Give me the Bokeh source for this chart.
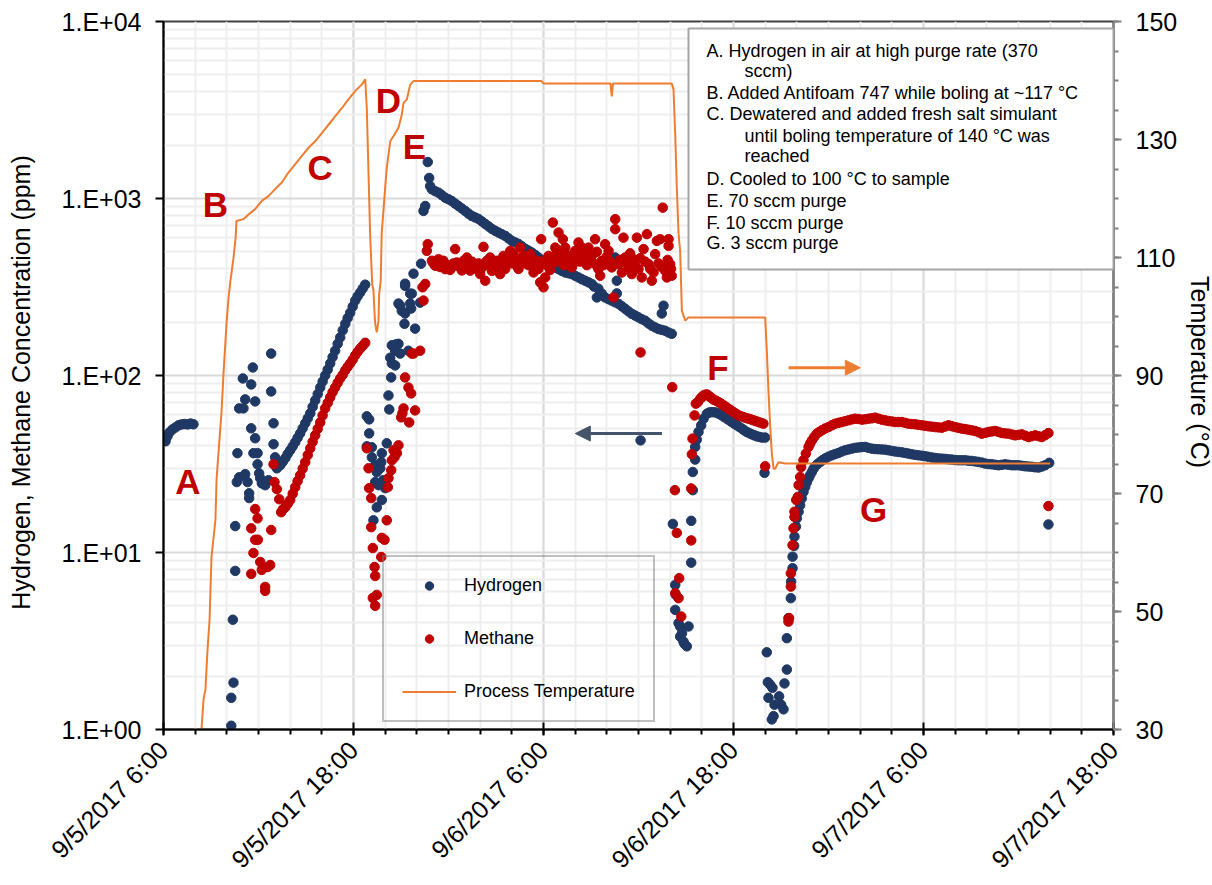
import math
from bokeh.plotting import figure
from bokeh.models import (Range1d, LinearAxis, LinearScale, FixedTicker, Legend, LegendItem, Label,
                          BoxAnnotation, Arrow, NormalHead)
from bokeh.embed import file_html
from bokeh.resources import INLINE

# ---------------- data (time = hours since 9/5/2017 6:00) ----------------
x_tick_hours = [0, 12, 24, 36, 48, 60]
x_tick_labels = ["9/5/2017 6:00", "9/5/2017 18:00", "9/6/2017 6:00",
                 "9/6/2017 18:00", "9/7/2017 6:00", "9/7/2017 18:00"]
y_left_ticks = [1, 10, 100, 1000, 10000]
y_left_labels = ["1.E+00", "1.E+01", "1.E+02", "1.E+03", "1.E+04"]
y_right_ticks = [30, 50, 70, 90, 110, 130, 150]

h2_pts = [
    # A
    (0.13, 42.5), (0.25, 45.3), (0.38, 47.7), (0.57, 49.6), (0.76, 50.9), (0.95, 52.3), (1.14, 52.9),
    (1.33, 53.2), (1.52, 52.9), (1.71, 53.5), (1.89, 53.0),
    # B scatter
    (4.28, 1.05), (4.28, 1.51), (4.42, 1.84), (4.38, 4.17), (4.53, 7.87), (4.53, 14.1), (4.67, 36.4),
    (4.63, 25.0), (4.78, 26.6), (5.16, 27.7), (5.31, 25.0), (5.41, 21.6), (5.41, 20.3), (4.78, 65.2),
    (5.05, 65.2), (5.16, 73.3), (5.01, 96.2), (5.54, 89.0), (5.64, 111), (5.79, 71.4), (5.54, 50.3),
    (5.79, 44.2), (5.68, 36.4), (5.94, 36.4), (5.94, 31.5), (6.04, 28.0), (6.11, 26.3), (6.21, 24.6),
    (6.42, 24.0), (6.63, 25.6), (6.80, 133), (6.80, 81.3), (6.95, 53.7), (6.95, 40.9), (7.05, 34.5),
    # C rise
    (7.16, 29.9), (7.37, 31.1), (7.53, 32.5), (7.69, 34.1), (7.84, 36.0), (8.0, 37.8), (8.16, 39.8),
    (8.32, 42.0), (8.47, 44.5), (8.63, 47.1), (8.79, 50.3), (8.95, 53.7), (9.11, 57.3), (9.27, 61.1),
    (9.42, 66.5), (9.58, 72.3), (9.74, 78.5), (9.90, 85.5), (10.05, 92.5), (10.21, 100), (10.37, 108),
    (10.53, 117), (10.68, 127), (10.84, 138), (11.0, 151), (11.16, 164), (11.32, 180), (11.48, 196),
    (11.63, 211), (11.79, 226), (11.95, 245), (12.11, 265), (12.26, 280), (12.42, 294), (12.58, 310),
    (12.74, 326),
    # D dip
    (12.84, 58.8), (12.99, 56.5), (12.99, 47.1), (12.84, 39.8), (13.16, 39.3), (13.16, 34.5), (13.37, 31.1),
    (13.47, 28.4), (13.37, 25.0), (13.58, 24.0), (13.79, 36.4), (13.75, 32.4), (13.69, 29.9), (13.89, 25.6),
    (14.0, 23.1), (13.79, 19.8), (13.47, 18.0), (13.26, 15.2), (14.1, 41.4), (14.26, 64.3), (14.21, 77.1),
    (14.38, 97.5), (14.42, 117), (14.32, 126), (14.42, 148), (14.63, 138), (14.84, 151), (14.69, 150),
    (14.63, 114), (15.26, 321), (14.95, 248), (15.05, 232), (15.22, 196), (15.58, 290), (15.64, 239),
    (15.89, 184), (15.58, 255), (15.26, 224), (14.95, 133), (15.47, 138), (15.26, 330), (15.79, 376),
    (15.68, 290), (14.84, 255), (16.21, 258), (16.27, 428), (16.42, 851), (16.53, 907), (16.69, 1607),
    (16.78, 1306), (16.84, 1175),
    # E decline
    (16.95, 1127), (17.16, 1100), (17.37, 1079), (17.58, 1045), (17.79, 1011), (18.0, 990), (18.21, 968),
    (18.42, 935), (18.63, 907), (18.84, 878), (19.05, 851), (19.26, 822), (19.47, 797), (19.68, 782),
    (19.89, 767), (20.11, 742), (20.32, 718), (20.53, 695), (20.74, 673), (20.95, 657), (21.16, 642),
    (21.37, 628), (21.58, 615), (21.79, 595), (22.0, 576), (22.21, 565), (22.42, 554), (22.63, 537),
    (22.84, 520), (23.05, 508), (23.26, 495), (23.47, 480), (23.68, 464), (23.89, 449), (24.11, 435),
    (24.32, 426), (24.53, 417), (24.74, 408), (24.95, 399), (25.16, 390), (25.37, 382), (25.58, 378),
    (25.79, 374), (26.0, 366), (26.21, 358), (26.42, 350), (26.63, 343), (26.84, 336), (27.05, 329),
    (27.2, 318), (27.37, 276), (27.47, 309), (27.68, 290), (27.89, 276), (28.1, 270), (28.31, 265),
    (28.53, 259), (28.74, 254), (28.95, 246), (29.16, 238), (29.37, 230), (29.58, 223), (29.79, 218),
    (30.0, 213), (30.21, 208), (30.42, 204), (30.63, 197), (30.84, 191), (31.05, 187), (31.26, 183),
    (31.47, 181), (31.68, 179), (31.89, 175), (32.1, 172),
    (28.53, 464), (28.63, 343), (28.63, 291), (31.58, 248), (31.47, 224), (30.13, 43.0),
    # F
    (32.17, 14.5), (32.32, 6.56), (32.36, 5.76), (32.32, 4.74), (32.53, 3.99), (32.63, 3.82), (32.63, 3.35),
    (32.75, 3.5), (32.84, 3.14), (32.9, 3.05), (33.05, 2.95), (33.16, 3.82), (33.33, 8.76), (33.33, 15.1),
    (33.43, 22.5), (33.43, 28.5), (33.58, 33.5), (33.58, 39.5), (33.68, 43.4), (33.79, 48.0), (33.96, 52.3),
    (34.11, 57.0), (34.32, 60.8), (34.47, 61.8), (34.63, 62.1), (34.79, 62.0), (34.95, 61.6), (35.1, 60.6),
    (35.26, 59.5), (35.42, 58.2), (35.58, 57.0), (35.74, 55.8), (35.89, 54.6), (36.05, 53.4), (36.21, 52.3),
    (36.37, 51.2), (36.53, 50.1), (36.68, 49.0), (36.84, 48.0), (37.0, 47.2), (37.16, 46.5), (37.32, 45.9),
    (37.47, 45.3), (37.63, 45.0), (37.79, 44.6), (38.0, 44.6), (37.96, 28.2),
    # G
    (38.1, 2.73), (38.17, 1.85), (38.32, 1.79), (38.46, 1.72), (38.21, 1.51), (38.59, 1.38), (38.42, 1.14),
    (38.53, 1.19), (38.88, 1.54), (39.01, 1.38), (39.16, 1.30), (39.22, 1.82), (39.37, 2.18), (39.37, 3.28),
    (39.47, 4.26), (39.62, 5.52), (39.64, 6.85), (39.73, 8.15), (39.73, 9.47), (39.83, 10.9), (39.85, 12.3),
    (39.94, 14.0), (40.0, 15.6), (40.11, 17.0), (40.21, 18.5), (40.31, 20.2), (40.42, 22.0), (40.53, 23.5),
    (40.63, 24.9), (40.74, 26.2), (40.84, 27.4), (40.95, 28.5), (41.05, 29.7), (41.16, 30.7), (41.32, 31.7),
    (41.48, 32.5), (41.63, 33.3), (41.79, 34.0), (42.0, 34.8), (42.21, 35.4), (42.42, 36.0), (42.63, 36.5),
    (42.84, 37.2), (43.05, 37.8), (43.26, 38.2), (43.47, 38.6), (43.68, 39.0), (43.89, 39.2), (44.1, 39.4),
    (44.32, 39.5), (44.53, 39.0), (44.74, 38.6), (44.95, 38.4), (45.16, 38.3), (45.37, 38.2), (45.58, 38.1),
    (45.79, 37.8), (46.0, 37.5), (46.21, 37.2), (46.42, 37.0), (46.63, 36.8), (46.84, 36.5), (47.05, 36.2),
    (47.26, 35.9), (47.47, 35.6), (47.68, 35.4), (47.9, 35.2), (48.11, 35.0), (48.32, 34.7), (48.53, 34.4),
    (48.74, 34.2), (48.95, 34.0), (49.16, 33.9), (49.37, 33.8), (49.58, 33.6), (49.79, 33.5), (50.0, 33.3),
    (50.21, 33.2), (50.42, 33.2), (50.63, 33.2), (50.84, 33.0), (51.05, 32.9), (51.26, 32.7), (51.47, 32.5),
    (51.68, 32.2), (51.9, 31.8), (52.11, 31.6), (52.32, 31.5), (52.53, 31.3), (52.74, 31.1), (52.95, 31.3),
    (53.16, 31.5), (53.37, 31.3), (53.58, 31.1), (53.79, 31.1), (54.0, 31.1), (54.21, 30.9), (54.42, 30.7),
    (54.63, 30.6), (54.84, 30.5), (55.05, 30.3), (55.26, 30.2), (55.47, 30.6), (55.68, 31.1), (55.94, 32.1),
    (55.89, 14.4),
]

ch4_pts = [
    # B scatter
    (5.54, 7.57), (5.68, 9.94), (5.79, 11.8), (5.96, 11.8), (5.54, 13.7), (5.94, 15.6), (5.79, 17.6),
    (6.42, 6.39), (6.42, 6.07), (6.11, 8.84), (6.21, 7.97), (6.59, 8.28), (6.74, 8.50), (6.80, 13.4),
    (6.95, 31.5), (7.01, 25.0), (7.16, 22.8), (7.31, 20.0), (7.43, 16.9),
    # C rise
    (7.53, 17.5), (7.69, 18.0), (7.84, 18.8), (8.0, 19.8), (8.16, 21.5), (8.32, 23.4), (8.47, 25.3),
    (8.63, 27.3), (8.79, 29.8), (8.95, 32.4), (9.11, 35.5), (9.27, 38.8), (9.42, 42.2), (9.58, 45.9),
    (9.74, 50.0), (9.90, 54.3), (10.05, 59.5), (10.21, 65.2), (10.37, 70.0), (10.53, 75.2), (10.68, 80.5),
    (10.84, 85.5), (11.0, 91.0), (11.16, 96.2), (11.32, 101), (11.48, 107), (11.63, 112), (11.79, 117),
    (11.95, 123), (12.11, 130), (12.26, 136), (12.42, 142), (12.58, 147), (12.74, 153),
    # D dip
    (12.84, 38.8), (12.95, 29.9), (12.99, 23.1), (13.12, 20.3), (13.12, 13.9), (13.22, 10.6), (13.33, 8.28),
    (13.37, 7.37), (13.22, 5.54), (13.37, 5.0), (13.47, 5.76), (13.75, 9.43), (13.79, 12.1), (13.96, 11.8),
    (14.1, 15.2), (14.17, 23.4), (14.21, 26.3), (14.38, 29.2), (14.42, 33.2), (14.59, 34.5), (14.74, 36.4),
    (14.84, 40.3), (14.53, 37.8), (15.01, 58.0), (15.16, 65.2), (15.09, 61.1), (15.26, 97.5), (15.52, 54.3),
    (15.64, 79.2), (15.79, 133), (15.89, 63.5), (15.47, 85.5), (15.68, 133), (16.21, 138), (16.36, 315),
    (16.53, 329), (16.42, 265), (16.69, 552), (16.63, 506),
    # E band
    (16.95, 445), (17.05, 430), (17.16, 417), (17.26, 440), (17.37, 454), (17.47, 410), (17.58, 426),
    (17.68, 445), (17.79, 399), (17.9, 420), (18.0, 417), (18.1, 395), (18.21, 408), (18.31, 430),
    (18.42, 518), (18.52, 435), (18.63, 420), (18.74, 408), (18.84, 392), (18.95, 445), (19.05, 430),
    (19.16, 464), (19.26, 410), (19.37, 391), (19.47, 440), (19.58, 426), (19.68, 415), (19.79, 399),
    (19.9, 430), (20.0, 374), (20.1, 405), (20.21, 533), (20.32, 343), (20.42, 445), (20.53, 420),
    (20.63, 464), (20.74, 390), (20.84, 417), (20.95, 430), (21.05, 445), (21.16, 410), (21.26, 374),
    (21.37, 440), (21.47, 474), (21.58, 400), (21.68, 426), (21.79, 455), (21.9, 506), (22.0, 430),
    (22.11, 485), (22.21, 445), (22.32, 417), (22.42, 400), (22.53, 528), (22.63, 460), (22.74, 474),
    (22.84, 430), (22.95, 454), (23.05, 420), (23.16, 485), (23.26, 465), (23.37, 382), (23.47, 430),
    (23.58, 445), (23.68, 400), (23.79, 336), (23.85, 589), (23.95, 440), (24.0, 315), (24.11, 358),
    (24.2, 420), (24.32, 474), (24.42, 395), (24.53, 435), (24.59, 731), (24.63, 470), (24.74, 528),
    (24.84, 440), (24.95, 642), (25.05, 485), (25.1, 455), (25.22, 589), (25.3, 420), (25.37, 528),
    (25.47, 480), (25.58, 445), (25.68, 460), (25.79, 408), (25.9, 430), (26.0, 506), (26.1, 470),
    (26.21, 564), (26.3, 440), (26.42, 528), (26.5, 490), (26.63, 454), (26.74, 420), (26.84, 528),
    (26.95, 460), (27.05, 474), (27.16, 430), (27.26, 589), (27.37, 500), (27.47, 399), (27.58, 366),
    (27.68, 445), (27.79, 420), (27.89, 552), (28.0, 470), (28.11, 506), (28.2, 440), (28.31, 408),
    (28.42, 276), (28.53, 764), (28.53, 671), (28.74, 426), (28.84, 450), (28.95, 382), (29.05, 601),
    (29.16, 464), (29.26, 430), (29.37, 408), (29.47, 490), (29.58, 374), (29.68, 454), (29.79, 420),
    (29.9, 601), (30.0, 399), (30.11, 460), (30.21, 358), (30.32, 518), (30.42, 440), (30.53, 629),
    (30.63, 426), (30.74, 400), (30.84, 343), (30.95, 382), (31.05, 485), (31.16, 576), (31.26, 430),
    (31.37, 589), (31.47, 410), (31.53, 888), (31.68, 391), (31.79, 358), (31.84, 450), (31.9, 589),
    (31.9, 540), (32.0, 426), (32.05, 400), (32.1, 366), (30.13, 135), (32.13, 85.9),
    # F
    (32.3, 22.5), (32.42, 12.9), (32.57, 7.16), (32.32, 5.89), (32.53, 5.52), (32.7, 4.35), (33.33, 11.7),
    (33.33, 23.0), (33.37, 35.9), (33.41, 44.0), (33.54, 59.5), (33.62, 69.3), (33.75, 70.8), (33.9, 73.9),
    (34.0, 75.5), (34.11, 77.1), (34.21, 77.8), (34.32, 78.2), (34.42, 77.0), (34.53, 75.5), (34.63, 74.5),
    (34.74, 73.0), (34.9, 72.0), (35.05, 70.8), (35.2, 69.5), (35.37, 67.8), (35.52, 66.5), (35.68, 64.9),
    (35.84, 63.5), (36.0, 62.1), (36.16, 60.8), (36.32, 59.5), (36.47, 58.8), (36.63, 58.2), (36.79, 57.5),
    (36.95, 57.0), (37.1, 56.5), (37.26, 55.8), (37.42, 55.2), (37.58, 54.6), (37.74, 54.0), (37.89, 53.4),
    (38.0, 30.7),
    # G
    (39.47, 4.07), (39.51, 4.26), (39.62, 6.42), (39.62, 7.63), (39.73, 11.0), (39.79, 13.7), (39.85, 15.9),
    (39.85, 17.0), (39.96, 19.8), (40.06, 20.6), (40.11, 24.0), (40.21, 26.7), (40.27, 30.4), (40.42, 33.2),
    (40.57, 36.2), (40.74, 39.5), (40.84, 41.2), (40.95, 43.0), (41.1, 45.0), (41.26, 46.9), (41.42, 48.0),
    (41.58, 49.0), (41.79, 50.2), (42.0, 51.1), (42.21, 52.3), (42.42, 53.4), (42.63, 54.0), (42.84, 54.6),
    (43.05, 55.2), (43.26, 55.8), (43.47, 56.5), (43.68, 57.0), (43.9, 56.8), (44.11, 56.3), (44.32, 56.6),
    (44.53, 57.0), (44.74, 57.3), (44.95, 57.8), (45.16, 57.0), (45.37, 56.3), (45.58, 55.8), (45.79, 55.3),
    (46.0, 55.0), (46.21, 54.6), (46.42, 54.6), (46.63, 54.6), (46.84, 54.0), (47.05, 53.4), (47.26, 53.2),
    (47.48, 53.0), (47.69, 52.6), (47.9, 52.3), (48.11, 52.0), (48.32, 51.6), (48.53, 51.4), (48.74, 51.1),
    (48.95, 50.9), (49.16, 50.7), (49.37, 51.5), (49.58, 52.3), (49.79, 51.7), (50.0, 51.1), (50.21, 50.6),
    (50.42, 50.1), (50.63, 49.8), (50.84, 49.4), (51.05, 49.0), (51.26, 48.6), (51.47, 47.8), (51.68, 46.9),
    (51.9, 47.4), (52.11, 48.0), (52.32, 48.3), (52.53, 48.6), (52.74, 48.0), (52.95, 47.3), (53.16, 47.1),
    (53.37, 46.9), (53.58, 46.4), (53.79, 45.9), (54.0, 46.2), (54.21, 46.5), (54.42, 45.7), (54.63, 44.9),
    (54.84, 45.4), (55.05, 45.9), (55.26, 45.4), (55.47, 44.9), (55.68, 46.0), (55.89, 47.3), (55.89, 18.3),
]

temp_pts = [
    (2.35, 29.0), (2.40, 30.0), (2.53, 35.1), (2.65, 36.8), (2.78, 43.5), (2.91, 48.6), (3.03, 59.2),
    (3.28, 65.5), (3.35, 72.3), (3.47, 76.8), (3.66, 83.6), (3.79, 90.3), (3.98, 98.8), (4.11, 103.2),
    (4.23, 106.1), (4.42, 109.9), (4.55, 113.2), (4.61, 116.2),
    (5.05, 116.5), (5.37, 117.3), (5.79, 118.2), (6.21, 119.6), (6.63, 120.4), (7.05, 121.6), (7.47, 122.7),
    (7.89, 124.4), (8.31, 125.8), (8.73, 127.2), (9.16, 128.6), (9.58, 129.7), (10.0, 131.1), (10.42, 132.5),
    (10.84, 133.9), (11.26, 135.3), (11.68, 136.8), (12.1, 138.2), (12.52, 139.3), (12.74, 140.2),
    (12.84, 135.3), (12.95, 124.1), (13.05, 114.0), (13.18, 105.5), (13.26, 104.4), (13.33, 100.5),
    (13.37, 98.8), (13.47, 97.3), (13.58, 99.3), (13.62, 103.8), (13.72, 106.1), (13.78, 114.0),
    (14.0, 121.8), (14.1, 125.2), (14.32, 129.7), (14.53, 130.6), (14.84, 132.0), (15.05, 134.2),
    (15.16, 136.2), (15.37, 136.8), (15.58, 139.3), (15.79, 139.9),
    (23.87, 139.9), (24.0, 139.5), (28.23, 139.5), (28.31, 137.3), (28.39, 139.5), (32.1, 139.5),
    (32.21, 138.5), (32.32, 130.8), (32.42, 121.8), (32.53, 114.0), (32.63, 111.1), (32.74, 101.0),
    (32.95, 99.3), (33.16, 99.85), (38.0, 99.85), (38.11, 93.9), (38.21, 87.2), (38.32, 81.3),
    (38.42, 76.8), (38.53, 74.2), (38.63, 74.2), (38.84, 75.3), (39.27, 75.1), (56.0, 75.1),
]

h2_hours = [a for a, b in h2_pts]
h2_ppm = [b for a, b in h2_pts]
ch4_hours = [a for a, b in ch4_pts]
ch4_ppm = [b for a, b in ch4_pts]
temp_hours = [a for a, b in temp_pts]
temp_c = [b for a, b in temp_pts]

# event letters: (letter, hour, ppm)
events = [("A", 1.54, 25.3), ("B", 3.27, 930), ("C", 9.9, 1499), ("D", 14.21, 3573),
          ("E", 15.84, 1963), ("F", 35.02, 110.7), ("G", 44.85, 17.5)]

notes = [
    ("A. Hydrogen in air at high purge rate (370", False),
    ("sccm)", True),
    ("B. Added Antifoam 747 while boling at ~117 °C", False),
    ("C. Dewatered and added fresh salt simulant", False),
    ("until boling temperature of 140 °C was", True),
    ("reached", True),
    ("D. Cooled to 100 °C to sample", False),
    ("E. 70 sccm purge", False),
    ("F. 10 sccm purge", False),
    ("G. 3 sccm purge", False),
]

# ---------------- styling ----------------
FONT = "Liberation Sans"
H2_COLOR = "#1F3864"
CH4_COLOR = "#C00000"
T_COLOR = "#ED7D31"

p = figure(frame_width=950, frame_height=708,
           min_border_left=163, min_border_right=99, min_border_top=21, min_border_bottom=156,
           x_range=Range1d(0, 60), y_range=Range1d(1, 10000), y_axis_type="log",
           output_backend="svg", toolbar_location=None,
           background_fill_color="white", border_fill_color="white")
p.outline_line_color = "#404040"
p.outline_line_width = 2

# x axis
xa = p.xaxis[0]
xa.ticker = FixedTicker(ticks=x_tick_hours, minor_ticks=list(range(0, 61, 2)))
xa.major_label_overrides = {h: lab for h, lab in zip(x_tick_hours, x_tick_labels)}
xa.major_label_orientation = math.pi / 4
xa.major_label_text_font = FONT
xa.major_label_text_font_size = "25px"
xa.major_label_text_color = "black"
xa.major_label_standoff = 10
xa.axis_line_color = "black"
xa.axis_line_width = 2
xa.major_tick_line_color = "black"
xa.major_tick_line_width = 2
xa.major_tick_in = 7
xa.major_tick_out = 6
xa.minor_tick_line_color = "black"
xa.minor_tick_line_width = 2
xa.minor_tick_in = 0
xa.minor_tick_out = 5

# left axis
ya = p.yaxis[0]
ya.ticker = FixedTicker(ticks=y_left_ticks,
                        minor_ticks=[m * 10 ** e for e in range(4) for m in range(2, 10)])
ya.major_label_overrides = {t: lab for t, lab in zip(y_left_ticks, y_left_labels)}
ya.major_label_text_font = FONT
ya.major_label_text_font_size = "25px"
ya.major_label_text_color = "black"
ya.major_label_standoff = 14
ya.axis_line_color = "black"
ya.axis_line_width = 2
ya.major_tick_line_color = "black"
ya.major_tick_line_width = 2
ya.major_tick_in = 0
ya.major_tick_out = 8
ya.minor_tick_line_color = None
ya.axis_label = "Hydrogen,  Methane Concentration  (ppm)"
ya.axis_label_text_font = FONT
ya.axis_label_text_font_size = "25px"
ya.axis_label_text_font_style = "normal"
ya.axis_label_text_color = "black"
ya.axis_label_standoff = 24

# grids
for g in (p.xgrid, p.ygrid):
    g.grid_line_color = "#d9d9d9"
    g.grid_line_width = 2
    g.minor_grid_line_color = "#eeeeee"
    g.minor_grid_line_width = 2

# right axis (temperature, linear scale)
p.extra_y_ranges = {"temp": Range1d(30, 150)}
p.extra_y_scales = {"temp": LinearScale()}
ra = LinearAxis(y_range_name="temp",
                ticker=FixedTicker(ticks=y_right_ticks, minor_ticks=list(range(30, 151, 5))))
ra.axis_label = "Temperature  (°C)"
ra.axis_label_text_font = FONT
ra.axis_label_text_font_size = "25px"
ra.axis_label_text_font_style = "normal"
ra.axis_label_text_color = "black"
ra.axis_label_standoff = 6
ra.major_label_text_font = FONT
ra.major_label_text_font_size = "25px"
ra.major_label_text_color = "black"
ra.major_label_standoff = 14
ra.axis_line_color = "#808080"
ra.axis_line_width = 2
ra.major_tick_line_color = "#808080"
ra.major_tick_line_width = 2
ra.major_tick_in = 0
ra.major_tick_out = 8
ra.minor_tick_line_color = "#808080"
ra.minor_tick_line_width = 2
ra.minor_tick_in = 0
ra.minor_tick_out = 5
p.add_layout(ra, "right")

# data
r_h2 = p.scatter(h2_hours, h2_ppm, size=9.5, marker="circle", fill_color=H2_COLOR, line_color=H2_COLOR)
r_ch4 = p.scatter(ch4_hours, ch4_ppm, size=9.5, marker="circle", fill_color=CH4_COLOR, line_color=CH4_COLOR)
r_t = p.line(temp_hours, temp_c, y_range_name="temp", line_color=T_COLOR, line_width=2)

# legend
legend = Legend(items=[LegendItem(label="Hydrogen", renderers=[r_h2]),
                       LegendItem(label="Methane", renderers=[r_ch4]),
                       LegendItem(label="Process Temperature", renderers=[r_t])],
                location=(219, 7))
legend.label_text_font = FONT
legend.label_text_font_size = "18px"
legend.label_text_color = "black"
legend.glyph_width = 54
legend.glyph_height = 21
legend.label_height = 21
legend.label_standoff = 8
legend.spacing = 32
legend.padding = 18
legend.margin = 0
legend.border_line_color = "#808080"
legend.border_line_width = 2
legend.background_fill_alpha = 0
p.add_layout(legend)

# event letters
for letter, hx, py in events:
    p.add_layout(Label(x=hx, y=py, text=letter, text_font=FONT, text_font_size="35px",
                       text_font_style="bold", text_color=CH4_COLOR,
                       text_align="center", text_baseline="middle"))

# arrows
p.add_layout(Arrow(x_start=31.48, y_start=47.0, x_end=26.01, y_end=47.0,
                   line_color="#44546A", line_width=3,
                   end=NormalHead(size=15, fill_color="#44546A", line_color="#44546A")))
p.add_layout(Arrow(x_start=39.48, y_start=110.7, x_end=44.01, y_end=110.7,
                   line_color=T_COLOR, line_width=3,
                   end=NormalHead(size=15, fill_color=T_COLOR, line_color=T_COLOR)))

# notes box (screen units relative to the plot frame)
p.add_layout(BoxAnnotation(left=525, right=950, bottom=460, top=701,
                           left_units="screen", right_units="screen",
                           bottom_units="screen", top_units="screen",
                           fill_color="white", fill_alpha=1.0,
                           line_color="#a6a6a6", line_width=2, line_alpha=1.0))
note_y = [679, 659, 637, 616, 594, 574, 551, 529, 507, 487]
for (txt, indent), sy in zip(notes, note_y):
    p.add_layout(Label(x=581 if indent else 543, y=sy, x_units="screen", y_units="screen",
                       text=txt, text_font=FONT, text_font_size="18px", text_color="black",
                       text_baseline="middle", text_align="left"))

open("out.html", "w").write(file_html(p, INLINE))
